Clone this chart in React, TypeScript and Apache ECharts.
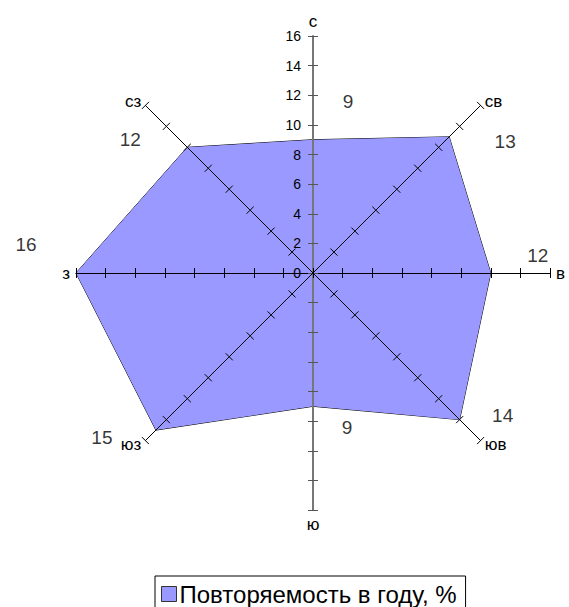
import React, { useEffect, useRef } from 'react';
import * as echarts from 'echarts';

// Directions, clockwise from north
const directions = ['с', 'св', 'в', 'юв', 'ю', 'юз', 'з', 'сз'];
// Frequency per direction, %
const frequency = [9, 13, 12, 14, 9, 15, 16, 12];
const axisMin = 0;
const axisMax = 16;
const axisSplits = 8;
const seriesName = 'Повторяемость в году, %';

// label offsets (style only)
const labelOffsets: number[][] = [
  [35, -38], [56, 5], [47, -18], [43, -4], [34, 21], [-54, 7], [-50, -29], [-57, -8],
];

const FONT = 'Arial, "Liberation Sans", sans-serif';
const CX = 313;
const CY = 273;
const R = 237;

export default function App() {
  const ref = useRef<HTMLDivElement>(null);
  useEffect(() => {
    if (!ref.current) return;
    const chart = echarts.init(ref.current, null, { renderer: 'svg' });
    const n = directions.length;
    // radar goes counter-clockwise, so reorder
    const order = directions.map((_, i) => (n - i) % n);
    const isVertical = (d: string) => d === 'с' || d === 'ю';
    const nameStyle = {
      color: '#000',
      fontSize: 17,
      fontWeight: 400,
      fontFamily: FONT,
      textBorderWidth: 0,
      textBorderColor: 'transparent',
      textShadowBlur: 0,
    };
    const indicators = order.map((i) => {
      const d = directions[i];
      const ind: any = { name: d, min: axisMin, max: axisMax, nameTextStyle: nameStyle };
      if (isVertical(d)) {
        ind.axisLine = { lineStyle: { color: '#777777', width: 2 } };
        ind.axisTick = { lineStyle: { color: '#555555', width: 1 } };
      }
      if (d === 'с') {
        ind.axisLabel = { show: true, color: '#000', fontSize: 14, fontFamily: FONT, margin: 12 };
      }
      return ind;
    });
    const tickIndicators = order.map((i) => {
      const d = directions[i];
      const ind: any = { name: '', min: axisMin, max: axisMax };
      if (isVertical(d)) {
        ind.axisTick = { lineStyle: { color: '#555555', width: 1 } };
      }
      return ind;
    });
    chart.setOption({
      animation: false,
      radar: [
        {
          center: [CX, CY],
          radius: R,
          startAngle: 90,
          splitNumber: axisSplits,
          indicator: indicators,
          z: 5,
          axisName: nameStyle,
          nameGap: 6,
          axisLine: { lineStyle: { color: '#000', width: 1 } },
          axisTick: { show: true, length: 5, lineStyle: { color: '#000', width: 1 } },
          axisLabel: { show: false },
          splitLine: { show: false },
          splitArea: { show: false },
        },
        {
          center: [CX, CY],
          radius: R,
          startAngle: 90,
          splitNumber: axisSplits,
          indicator: tickIndicators,
          z: 5,
          axisName: { show: false },
          axisLine: { show: false },
          axisTick: { show: true, length: -5, lineStyle: { color: '#000', width: 1 } },
          axisLabel: { show: false },
          splitLine: { show: false },
          splitArea: { show: false },
        },
      ],
      polar: { center: [CX, CY], radius: R },
      angleAxis: {
        type: 'category',
        data: directions,
        startAngle: 90,
        clockwise: true,
        boundaryGap: false,
        show: false,
      },
      radiusAxis: { type: 'value', min: axisMin, max: axisMax, show: false },
      legend: {
        data: [seriesName],
        left: 155,
        top: 576,
        icon: 'rect',
        itemWidth: 15,
        itemHeight: 15,
        itemGap: 4,
        padding: [6, 9, 8, 6],
        borderColor: '#000',
        borderWidth: 1,
        textStyle: { color: '#000', fontSize: 24, fontFamily: FONT, padding: [0, 0, 0, -2] },
        itemStyle: { borderColor: '#333', borderWidth: 1 },
      },
      series: [
        {
          name: seriesName,
          type: 'radar',
          radarIndex: 0,
          symbol: 'none',
          lineStyle: { color: '#000', width: 1 },
          itemStyle: { color: '#9999ff', borderColor: '#000', borderWidth: 1 },
          areaStyle: { color: '#9999ff', opacity: 1 },
          data: [{ value: order.map((i) => frequency[i]), name: seriesName }],
        },
        {
          name: 'labels',
          type: 'scatter',
          coordinateSystem: 'polar',
          symbolSize: 0,
          silent: true,
          z: 10,
          data: frequency.map((v, i) => ({
            value: [v, directions[i]],
            label: { offset: labelOffsets[i] },
          })),
          label: {
            show: true,
            position: 'inside',
            color: '#000',
            fontSize: 19,
            fontFamily: FONT,
            formatter: (p: any) => String(p.value[0]),
          },
        },
      ],
    });
    return () => chart.dispose();
  }, []);
  return (
    <div
      ref={ref}
      style={{ position: 'fixed', left: 0, top: 0, width: 569, height: 607, background: '#fff' }}
    />
  );
}
